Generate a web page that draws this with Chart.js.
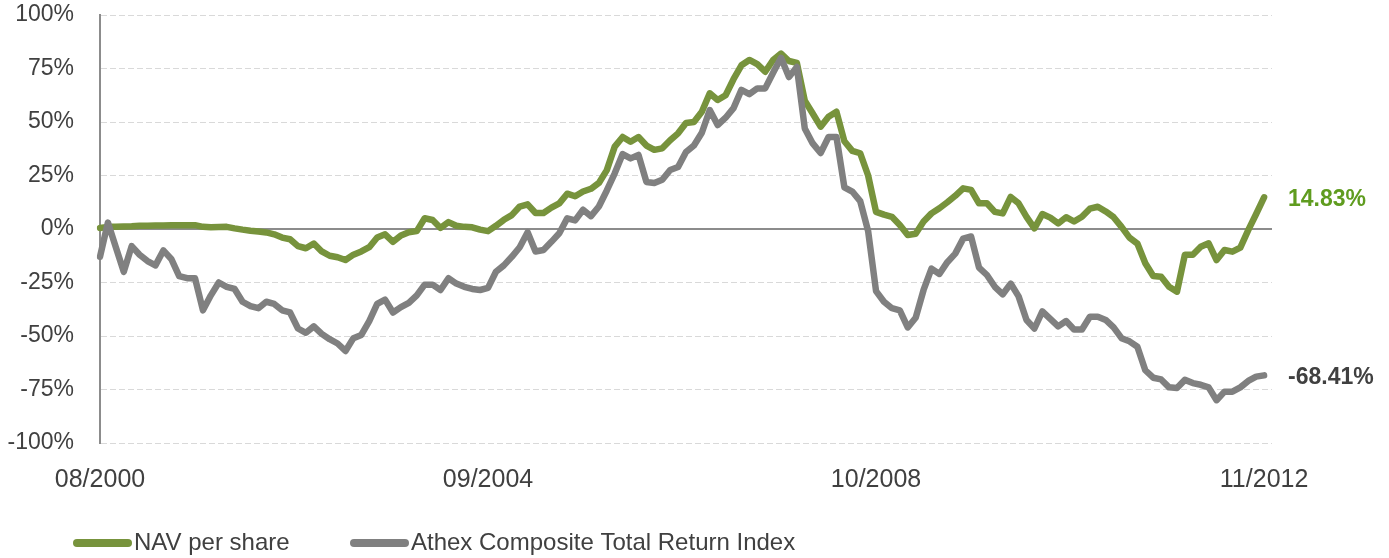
<!DOCTYPE html>
<html><head><meta charset="utf-8">
<script src="https://cdn.jsdelivr.net/npm/chart.js@4/dist/chart.umd.min.js"></script>
<style>html,body{margin:0;padding:0;background:#fff}#wrap{width:1389px;height:558px}</style>
</head><body><div id="wrap"><canvas id="c" width="1389" height="558"></canvas></div>
<script>
const seriesNames = ['NAV per share', 'Athex Composite Total Return Index'];
const tickLabels = ['08/2000', '09/2004', '10/2008', '11/2012'];

const navPerShare = [
  0.5, 1, 1, 1.2, 1.3, 1.5, 1.5, 1.6, 1.6, 1.7, 1.7, 1.7, 1.8,
  1.0, 0.8, 0.9, 1.0, 0.3, -0.3, -0.8, -1.2, -1.6, -2.5, -4, -4.8,
  -8, -9, -6.8, -10.5, -12.5, -13.2, -14.5, -12, -10.5, -8.5, -4, -2.5,
  -6, -3, -1.5, -1, 5, 4.2, 0.5, 3.2, 1.5, 1, 0.8, -0.3,
  -1, 1.5, 4.3, 6.5, 10.5, 11.5, 7.5, 7.5, 10, 12, 16.5, 15.3,
  17.5, 18.8, 21.5, 27.5, 38.5, 43, 40.8, 43, 39, 37, 37.7, 41.5,
  44.7, 49.5, 50, 54.8, 63.4, 60.3, 62.5, 70, 76.5, 79, 77, 73.5,
  79, 82, 78.5, 77.6, 60, 54, 47.8, 52.5, 54.8, 41, 36.5, 35.4,
  25, 8, 6.7, 5.7, 1.9, -2.8, -2.2, 3.5, 7.3, 9.7, 12.5, 15.5,
  19, 18.3, 12, 12, 8, 7.3, 15, 12, 5.7, 0.3, 7, 5.3,
  2.6, 5.5, 3.5, 5.7, 9.5, 10.4, 8.2, 5.5, 1, -4, -6.8, -16,
  -22, -22.3, -27, -29.3, -12, -12, -8.3, -6.7, -14.5, -9.8, -10.6, -8.7,
  -0.5, 7, 14.83
];

const athexTotalReturn = [
  -13, 3, -8.5, -20, -8, -12, -15, -17, -10, -14, -22, -23, -23,
  -38, -31, -25, -27, -28, -34, -36, -37, -34, -35, -38, -39,
  -46.5, -48.5, -45.5, -49, -51.5, -53.5, -57, -51, -49.5, -43, -35, -33,
  -39, -36.5, -34.5, -31, -26, -26, -28.5, -23, -25.5, -27, -28, -28.5,
  -27.5, -20, -17, -13, -8.5, -1.5, -10.5, -9.8, -6, -2, 5, 4,
  9, 6, 10.5, 18, 26, 35, 33, 34.6, 22, 21.5, 23, 27.6,
  29, 36, 39, 45, 55.6, 48.6, 52, 56.5, 65, 63, 65.7, 65.7,
  73, 80, 71, 75.7, 47, 40, 35.5, 43, 43, 19.5, 17.5, 13,
  -1, -29, -34, -37, -38, -46, -41.5, -28.5, -18.5, -21, -15.5, -11.5,
  -4.5, -3.5, -18, -21.5, -27, -30.5, -25.5, -31.5, -42.5, -46.5, -38.5, -42,
  -45.5, -43, -47, -47, -41, -41, -42.5, -46, -51, -52.5, -55, -66,
  -69.5, -70.3, -74, -74.3, -70.5, -72, -72.8, -74, -80, -76, -76, -74,
  -71, -69, -68.41
];

const seriesColors = ['#77933C', '#808080'];
const endLabelColors = ['#5f9c1f', '#404040'];

// monthly categories 08/2000 .. 11/2012, plus an empty slot closing the axis
const startMonth = 8, startYear = 2000;
const categories = [];
for (let i = 0; i < navPerShare.length; i++) {
  const k = startMonth - 1 + i;
  categories.push(String(k % 12 + 1).padStart(2, '0') + '/' + (startYear + Math.floor(k / 12)));
}
categories.push('');

const FONT = '"Liberation Sans", Arial, sans-serif';

const endLabels = {
  id: 'endLabels',
  afterDatasetsDraw(chart) {
    const { ctx, chartArea } = chart;
    const ys = chart.scales.y;
    chart.data.datasets.forEach((ds, i) => {
      const v = ds.data[ds.data.length - 1];
      ctx.save();
      ctx.font = 'bold 23px ' + FONT;
      ctx.fillStyle = endLabelColors[i];
      ctx.textAlign = 'left';
      ctx.textBaseline = 'middle';
      ctx.fillText(v.toFixed(2) + '%', chartArea.right + 16, ys.getPixelForValue(v) + 2);
      ctx.restore();
    });
  }
};

const customLegend = {
  id: 'customLegend',
  afterDraw(chart) {
    const ctx = chart.ctx;
    const y = 543;
    const starts = [73, 350];
    ctx.save();
    ctx.font = '24px ' + FONT;
    ctx.textBaseline = 'middle';
    ctx.textAlign = 'left';
    seriesNames.forEach((name, i) => {
      const x0 = starts[i];
      ctx.strokeStyle = seriesColors[i];
      ctx.lineWidth = 8;
      ctx.lineCap = 'round';
      ctx.beginPath();
      ctx.moveTo(x0 + 4, y);
      ctx.lineTo(x0 + 55, y);
      ctx.stroke();
      ctx.fillStyle = '#404040';
      ctx.fillText(name, x0 + 61, y);
    });
    ctx.restore();
  }
};

const isZero = c => c.tick && c.tick.value === 0;

new Chart(document.getElementById('c'), {
  type: 'line',
  data: {
    labels: categories,
    datasets: [
      { label: seriesNames[0], data: navPerShare, borderColor: seriesColors[0], backgroundColor: seriesColors[0], order: 1 },
      { label: seriesNames[1], data: athexTotalReturn, borderColor: seriesColors[1], backgroundColor: seriesColors[1], order: 0 }
    ]
  },
  options: {
    responsive: false,
    animation: false,
    layout: { padding: { top: 0, right: 117, left: 0, bottom: 0 } },
    elements: {
      point: { radius: 0, hoverRadius: 0 },
      line: { borderWidth: 6.5, tension: 0, borderJoinStyle: 'round', borderCapStyle: 'round', fill: false }
    },
    plugins: { legend: { display: false }, tooltip: { enabled: false } },
    scales: {
      x: {
        type: 'category',
        offset: false,
        grid: { display: false, drawTicks: false },
        border: { display: false },
        ticks: {
          autoSkip: false, maxRotation: 0, minRotation: 0, padding: 22,
          color: '#404040', font: { family: FONT, size: 25 },
          callback: function (v) { const l = this.getLabelForValue(v); return tickLabels.includes(l) ? l : null; }
        },
        afterFit: s => { s.height = 115; }
      },
      y: {
        min: -100, max: 100,
        ticks: { stepSize: 25, padding: 26, color: '#404040', font: { family: FONT, size: 23 }, callback: v => v + '%' },
        grid: {
          drawTicks: false,
          color: c => isZero(c) ? '#8c8c8c' : '#d9d9d9',
          lineWidth: c => isZero(c) ? 2 : 1
        },
        border: { display: true, color: '#8c8c8c', width: 2, dash: c => isZero(c) ? [] : [6, 3] },
        afterFit: s => { s.width = 100; s.paddingTop = 15; s.paddingBottom = 15; }
      }
    }
  },
  plugins: [endLabels, customLegend]
});
</script>
</body></html>
